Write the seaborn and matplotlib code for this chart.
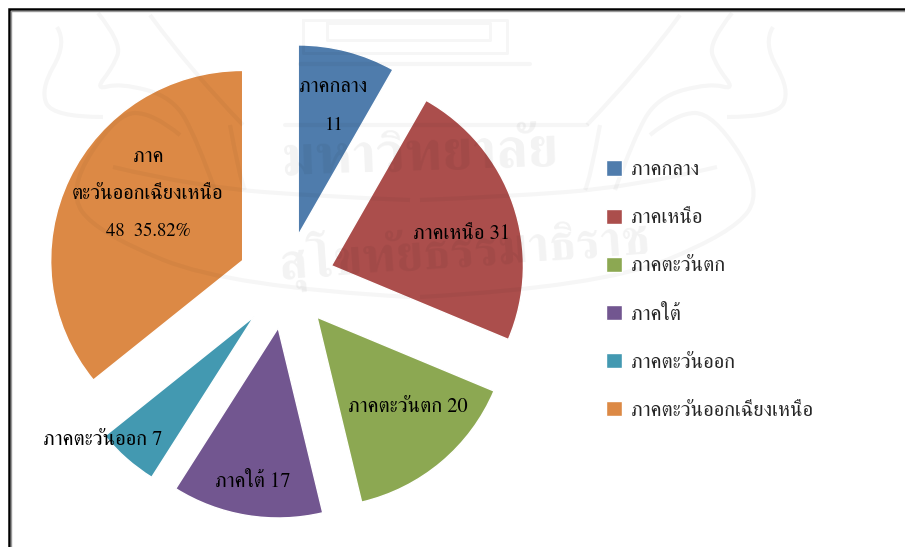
import matplotlib
matplotlib.use('Agg')
import matplotlib.pyplot as plt
from matplotlib.path import Path
from matplotlib.patches import PathPatch
import seaborn as sns

# ข้อมูลจำนวนตามภาค
regions = ['ภาคกลาง', 'ภาคเหนือ', 'ภาคตะวันตก', 'ภาคใต้', 'ภาคตะวันออก', 'ภาคตะวันออกเฉียงเหนือ']
counts = [11, 31, 20, 17, 7, 48]
colors = ['#4F7CAC', '#AB4E4C', '#8CA852', '#725690', '#4399B1', '#DC8945']

sns.set_theme(style='white')
plt.rcParams['font.family'] = ['FreeSerif', 'Noto Serif Thai', 'DejaVu Sans']
palette = sns.color_palette(colors)

W, H = 905, 547
fig = plt.figure(figsize=(W / 100, H / 100), dpi=100)

# pie axes, y is squeezed a little because the original pie is not quite round
ysq = 0.99
ax_pie = fig.add_axes([0, 0, 1, 1])
wedges, _ = ax_pie.pie(counts, colors=palette, startangle=90, counterclock=False,
                       center=(286, (H - 281) / ysq), radius=192, explode=[48] * 6, frame=True)
ax_pie.set_aspect('auto')
ax_pie.set_xlim(0, W)
ax_pie.set_ylim(0, H / ysq)
ax_pie.axis('off')

ax = fig.add_axes([0, 0, 1, 1], zorder=3)
ax.set_xlim(0, W)
ax.set_ylim(H, 0)
ax.axis('off')
ax.patch.set_alpha(0)

wm = 0.035


def smooth(points, lw=3.0):
    # faint emblem line, goes through the midpoints of the points
    verts = [points[0]]
    codes = [Path.MOVETO]
    for i in range(1, len(points) - 1):
        nxt = points[i + 1] if i == len(points) - 2 else ((points[i][0] + points[i + 1][0]) / 2, (points[i][1] + points[i + 1][1]) / 2)
        verts += [points[i], nxt]
        codes += [Path.CURVE3, Path.CURVE3]
    ax.add_patch(PathPatch(Path(verts, codes), fill=False, ec='black', alpha=wm, lw=lw))


# ตราด้านหลัง (ซ้ายขวาสมมาตรที่ x = 415)
flames = [
    [(732, 13), (708, 43), (717, 67), (735, 90), (710, 83), (657, 97), (633, 140), (615, 190)],
    [(773, 27), (763, 43), (790, 90), (777, 117), (727, 117)],
    [(650, 135), (677, 113), (713, 113), (763, 190), (733, 233), (600, 287), (420, 297)],
    [(717, 167), (633, 187), (500, 197), (420, 200)],
    [(600, 125), (590, 180), (585, 190)],
    [(680, 15), (640, 70), (587, 125)],
]
for line in flames:
    smooth(line)
    smooth([(830 - x, y) for x, y in line])
for x0, y0, x1, y1 in [(303, 20, 507, 53), (327, 23, 490, 40)]:
    ax.plot([x0, x0, x1, x1, x0], [y0, y1, y1, y0, y0], color='black', alpha=wm, lw=2.2)
ax.plot([285, 587], [125, 125], color='black', alpha=wm, lw=3)
ax.plot([300, 530], [64, 64], color='black', alpha=wm, lw=3)
ax.text(420, 157, 'มหาวิทยาลัย', ha='center', va='center', fontsize=40, fontweight='bold',
        color='black', alpha=0.05, rotation=2)
ax.text(465, 250, 'สุโขทัยธรรมาธิราช', ha='center', va='center', fontsize=36, fontweight='bold',
        color='black', alpha=0.05, rotation=4)

total = sum(counts)
fs = 14.8
fs_num = 13.4


def lab(x, y, s, size=fs):
    ax.text(x, y, s, ha='center', va='center', fontsize=size, color='black')


lab(333, 87, regions[0])
lab(334, 125, str(counts[0]), fs_num)
lab(462, 234, f'{regions[1]} {counts[1]}')
lab(408, 407, f'{regions[2]} {counts[2]}')
lab(253, 482, f'{regions[3]} {counts[3]}')
lab(103, 440, f'{regions[4]} {counts[4]}')
lab(148, 157, 'ภาค')
lab(147, 194, 'ตะวันออกเฉียงเหนือ')
lab(148, 231, f'{counts[5]}  {counts[5] / total * 100:.2f}%', fs_num)

ax.legend(wedges, regions, loc='upper left', bbox_to_anchor=(587 / W, 1 - 142 / H),
          frameon=False, fontsize=fs, handlelength=0.78, handleheight=0.78,
          handletextpad=0.44, labelspacing=1.37)

# กรอบรูป
ax.plot([8.5, 8.5, W], [H, 8.5, 8.5], color='black', lw=1.8, solid_joinstyle='miter')
ax.plot([11, 11, W], [H, 10.5, 10.5], color='#999999', lw=1)

fig.savefig('out.png', dpi=100)
